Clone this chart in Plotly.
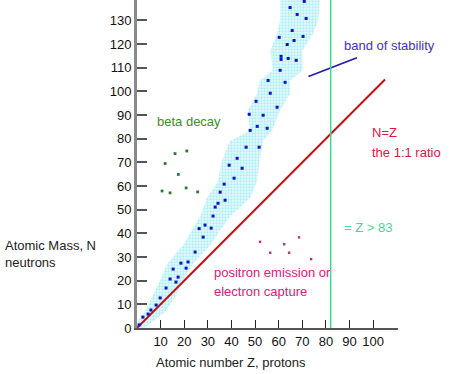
import plotly.graph_objects as go

# ---- data (Z = protons, N = neutrons) ----
band_n = [0, 3.4, 7, 13, 20, 27, 35, 41, 47, 55, 62, 71, 79, 83.5, 92, 99, 104.6, 109, 117, 124.5, 130, 139]
band_zmin = [0, 0.4, 3.4, 6.4, 9.7, 12.7, 19.5, 23, 26.7, 29.7, 34.3, 36, 39.4, 47.9, 47, 50.8, 52, 57.6, 56.4, 59.3, 60.6, 60.6]
band_zmax = [3, 7.6, 11.9, 16, 19.5, 23.7, 31, 35, 39.4, 47.9, 50.8, 52, 53.4, 57.2, 60.6, 64.8, 64.8, 70.3, 69.9, 74.6, 76.7, 77.5]

stable_z = [0.9, 2.5, 4.7, 5.9, 8.1, 9.8, 12.3, 14.0, 15.3, 16.5, 17.4, 18.6, 20.8, 21.6, 24.6, 28.0,
            26.3, 28.8, 31.4, 32.2, 33.1, 34.3, 35.2, 36.9, 37.3, 39.0, 41.1, 42.4, 44.5, 46.2, 47.9,
            51.7, 50.9, 55.1, 47.5, 53.4, 50.4, 59.3, 56.4, 55.5, 62.7, 60.6, 61.0, 61.0, 64.0, 67.4,
            63.6, 66.5, 60.2, 65.7, 70.3, 64.8, 67.8, 71.6, 70.8]
stable_n = [1.3, 4.6, 5.9, 7.6, 9.7, 12.7, 16.9, 20.7, 24.9, 19.4, 21.5, 27.4, 25.3, 27.9, 32.1, 38.4,
            42.0, 43.5, 42.2, 47.3, 51.1, 52.7, 57.4, 60.8, 54.0, 68.8, 63.3, 71.7, 67.5, 76.4, 83.5,
            76.4, 85.2, 84.4, 90.3, 89.9, 95.8, 93.3, 99.2, 104.6, 103.8, 108.9, 114.8, 113.5, 113.9, 113.1,
            119.8, 121.5, 122.8, 125.7, 123.2, 135.4, 132.5, 130.8, 138.0]

beta_z = [16.1, 21.1, 11.9, 17.5, 10.6, 14.0, 20.8, 25.7]
beta_n = [73.7, 74.8, 69.5, 64.9, 57.9, 57.1, 59.2, 57.5]

positron_z = [52.1, 62.3, 68.6, 56.4, 64.4, 73.7]
positron_n = [36.4, 35.4, 38.3, 31.8, 31.8, 29.1]

nz_line_z = [0, 105]
pointer_z = [72.6, 93.1]
pointer_n = [106.3, 114.2]
limit_z = 82

x_ticks = [10, 20, 30, 40, 50, 60, 70, 80, 90, 100]
y_ticks = [0, 10, 20, 30, 40, 50, 60, 70, 80, 90, 100, 110, 120, 130]

FONT = "Liberation Sans, Arial, sans-serif"

fig = go.Figure()

# band of stability (stippled cyan area)
poly_x = band_zmin + band_zmax[::-1]
poly_y = band_n + band_n[::-1]
fig.add_trace(go.Scatter(
    x=poly_x, y=poly_y, fill="toself", mode="lines", line=dict(width=0),
    fillcolor="#e0f8fc",
    fillpattern=dict(shape=".", fgcolor="#70e0f0", bgcolor="#e8fafd", size=3, solidity=0.45),
    hoverinfo="skip", showlegend=False))

# N = Z line
fig.add_trace(go.Scatter(x=nz_line_z, y=nz_line_z, mode="lines",
                         line=dict(color="#c41010", width=2), showlegend=False))

# pointer line
fig.add_trace(go.Scatter(x=pointer_z, y=pointer_n, mode="lines",
                         line=dict(color="#1a1aa8", width=1.5), showlegend=False))

# Z limit line
fig.add_vline(x=limit_z, line=dict(color="#3fd98f", width=1.5))

fig.add_trace(go.Scatter(x=stable_z, y=stable_n, mode="markers",
                         marker=dict(symbol="square", size=3, color="#0a14c0"), showlegend=False))
fig.add_trace(go.Scatter(x=beta_z, y=beta_n, mode="markers",
                         marker=dict(symbol="square", size=2.8, color="#2a7a30"), showlegend=False))
fig.add_trace(go.Scatter(x=positron_z, y=positron_n, mode="markers",
                         marker=dict(symbol="square", size=2.4, color="#b83070"), showlegend=False))

def note(text, x, y, color, xref="x", yref="y", xanchor="left", align="left"):
    fig.add_annotation(text=text, x=x, y=y, xref=xref, yref=yref, showarrow=False,
                       xanchor=xanchor, yanchor="middle", align=align,
                       font=dict(family=FONT, size=13, color=color))

note("band of stability", 86.7, 119.4, "#4030d0")
note("beta decay", 7.6, 87.3, "#3c8c28")
note("N=Z", 98.7, 82.7, "#d81840")
note("the 1:1 ratio", 98.7, 74.3, "#d81840")
note("= Z &gt; 83", 86.7, 42.6, "#45d890")
note("positron emission or", 31.7, 23.5, "#d8207a")
note("electron capture", 31.7, 15.3, "#d8207a")
note("Atomic number Z, protons", 0.362, -0.106, "#222222", xref="paper", yref="paper", xanchor="center", align="center")
note("Atomic Mass, N<br>neutrons", -0.513, 0.226, "#222222", xref="paper", yref="paper")

fig.update_layout(
    width=450, height=374, autosize=False,
    margin=dict(l=137, r=52, t=0, b=46, pad=0),
    plot_bgcolor="white", paper_bgcolor="white",
    font=dict(family=FONT, size=13, color="#111111"),
    xaxis=dict(range=[0, 110.5], tickvals=x_ticks, ticks="inside", ticklen=8, tickwidth=1,
               tickcolor="#222222", showline=True, linecolor="#555555", linewidth=2,
               showgrid=False, zeroline=False, tickfont=dict(family=FONT, size=13, color="#111111")),
    yaxis=dict(range=[0, 138.6], tickvals=y_ticks, ticks="inside", ticklen=10, tickwidth=1.5,
               tickcolor="#555555", showline=True, linecolor="#8a8a8a", linewidth=3,
               showgrid=False, zeroline=False, tickfont=dict(family=FONT, size=13, color="#111111")),
)

fig.write_html("out.html", config={"displayModeBar": False},
               post_script="document.body.style.margin='0';document.body.style.overflow='hidden';")
